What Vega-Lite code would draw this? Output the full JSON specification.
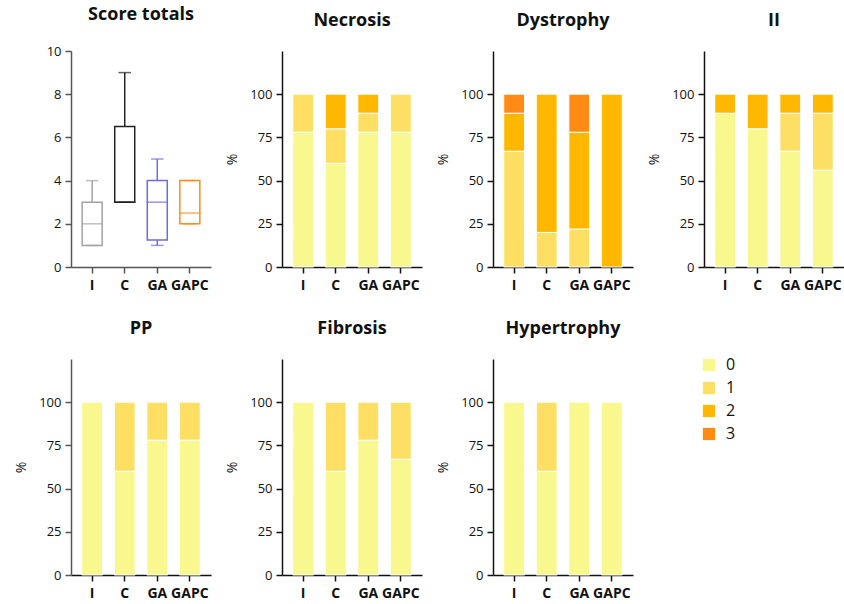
{
  "$schema": "https://vega.github.io/schema/vega-lite/v6.json",
  "background": "white",
  "padding": {"left": 14, "top": 6, "right": 0, "bottom": 0},
  "datasets": {
    "bars": [
      {"panel": "Necrosis", "group": "I", "score": 0, "pct": 78},
      {"panel": "Necrosis", "group": "I", "score": 1, "pct": 22},
      {"panel": "Necrosis", "group": "C", "score": 0, "pct": 60},
      {"panel": "Necrosis", "group": "C", "score": 1, "pct": 20},
      {"panel": "Necrosis", "group": "C", "score": 2, "pct": 20},
      {"panel": "Necrosis", "group": "GA", "score": 0, "pct": 78},
      {"panel": "Necrosis", "group": "GA", "score": 1, "pct": 11},
      {"panel": "Necrosis", "group": "GA", "score": 2, "pct": 11},
      {"panel": "Necrosis", "group": "GAPC", "score": 0, "pct": 78},
      {"panel": "Necrosis", "group": "GAPC", "score": 1, "pct": 22},
      {"panel": "Dystrophy", "group": "I", "score": 1, "pct": 67},
      {"panel": "Dystrophy", "group": "I", "score": 2, "pct": 22},
      {"panel": "Dystrophy", "group": "I", "score": 3, "pct": 11},
      {"panel": "Dystrophy", "group": "C", "score": 1, "pct": 20},
      {"panel": "Dystrophy", "group": "C", "score": 2, "pct": 80},
      {"panel": "Dystrophy", "group": "GA", "score": 1, "pct": 22},
      {"panel": "Dystrophy", "group": "GA", "score": 2, "pct": 56},
      {"panel": "Dystrophy", "group": "GA", "score": 3, "pct": 22},
      {"panel": "Dystrophy", "group": "GAPC", "score": 2, "pct": 100},
      {"panel": "II", "group": "I", "score": 0, "pct": 89},
      {"panel": "II", "group": "I", "score": 2, "pct": 11},
      {"panel": "II", "group": "C", "score": 0, "pct": 80},
      {"panel": "II", "group": "C", "score": 2, "pct": 20},
      {"panel": "II", "group": "GA", "score": 0, "pct": 67},
      {"panel": "II", "group": "GA", "score": 1, "pct": 22},
      {"panel": "II", "group": "GA", "score": 2, "pct": 11},
      {"panel": "II", "group": "GAPC", "score": 0, "pct": 56},
      {"panel": "II", "group": "GAPC", "score": 1, "pct": 33},
      {"panel": "II", "group": "GAPC", "score": 2, "pct": 11},
      {"panel": "PP", "group": "I", "score": 0, "pct": 100},
      {"panel": "PP", "group": "C", "score": 0, "pct": 60},
      {"panel": "PP", "group": "C", "score": 1, "pct": 40},
      {"panel": "PP", "group": "GA", "score": 0, "pct": 78},
      {"panel": "PP", "group": "GA", "score": 1, "pct": 22},
      {"panel": "PP", "group": "GAPC", "score": 0, "pct": 78},
      {"panel": "PP", "group": "GAPC", "score": 1, "pct": 22},
      {"panel": "Fibrosis", "group": "I", "score": 0, "pct": 100},
      {"panel": "Fibrosis", "group": "C", "score": 0, "pct": 60},
      {"panel": "Fibrosis", "group": "C", "score": 1, "pct": 40},
      {"panel": "Fibrosis", "group": "GA", "score": 0, "pct": 78},
      {"panel": "Fibrosis", "group": "GA", "score": 1, "pct": 22},
      {"panel": "Fibrosis", "group": "GAPC", "score": 0, "pct": 67},
      {"panel": "Fibrosis", "group": "GAPC", "score": 1, "pct": 33},
      {"panel": "Hypertrophy", "group": "I", "score": 0, "pct": 100},
      {"panel": "Hypertrophy", "group": "C", "score": 0, "pct": 60},
      {"panel": "Hypertrophy", "group": "C", "score": 1, "pct": 40},
      {"panel": "Hypertrophy", "group": "GA", "score": 0, "pct": 100},
      {"panel": "Hypertrophy", "group": "GAPC", "score": 0, "pct": 100}
    ],
    "box": [
      {"group": "I", "lo": 1, "q1": 1, "med": 2, "q3": 3, "hi": 4},
      {"group": "C", "lo": 3, "q1": 3, "med": 3, "q3": 6.5, "hi": 9},
      {"group": "GA", "lo": 1, "q1": 1.25, "med": 3, "q3": 4, "hi": 5},
      {"group": "GAPC", "lo": 2, "q1": 2, "med": 2.5, "q3": 4, "hi": 4}
    ]
  },
  "columns": 4,
  "spacing": {"row": 92, "column": 71},
  "bounds": "flush",
  "concat": [
    {
      "width": 140, "height": 216,
      "title": "Score totals",
      "data": {"name": "box"},
      "encoding": {
        "x": {"field": "group", "type": "nominal", "sort": ["I", "C", "GA", "GAPC"], "scale": {"paddingInner": 0.36, "paddingOuter": 0.33}, "axis": {"title": null, "labelAngle": 0, "domainColor": "#555", "tickColor": "#555"}},
        "stroke": {"field": "group", "type": "nominal", "scale": {"domain": ["I", "C", "GA", "GAPC"], "range": ["#A3A3A3", "#222222", "#6A6AE6", "#FF8C1A"]}, "legend": null}
      },
      "layer": [
        {
          "mark": {"type": "rule", "strokeWidth": 1.5},
          "encoding": {
            "y": {"field": "lo", "type": "quantitative", "scale": {"domain": [0, 10]}, "axis": {"values": [0, 2, 4, 6, 8, 10], "title": null, "domainColor": "#555", "tickColor": "#555"}},
            "y2": {"field": "hi"}
          }
        },
        {
          "mark": {"type": "bar", "fill": "white", "strokeWidth": 1.5, "width": 20},
          "encoding": {
            "y": {"field": "q1", "type": "quantitative"},
            "y2": {"field": "q3"}
          }
        },
        {
          "mark": {"type": "tick", "filled": false, "thickness": 0.01, "size": 20, "strokeWidth": 1.5},
          "encoding": {"y": {"field": "med", "type": "quantitative"}}
        },
        {
          "mark": {"type": "tick", "filled": false, "thickness": 0.01, "size": 11, "strokeWidth": 1.5},
          "encoding": {"y": {"field": "hi", "type": "quantitative"}}
        },
        {
          "mark": {"type": "tick", "filled": false, "thickness": 0.01, "size": 11, "strokeWidth": 1.5},
          "encoding": {"y": {"field": "lo", "type": "quantitative"}}
        }
      ]
    },
    {
      "width": 140, "height": 216, "title": "Necrosis",
      "data": {"name": "bars"},
      "transform": [{"filter": "datum.panel === 'Necrosis'"}],
      "mark": {"type": "bar", "stroke": "white", "strokeWidth": 1},
      "encoding": {
        "x": {"field": "group", "type": "nominal", "sort": ["I", "C", "GA", "GAPC"], "scale": {"paddingInner": 0.36, "paddingOuter": 0.33}, "axis": {"title": null, "labelAngle": 0}},
        "y": {"field": "pct", "type": "quantitative", "stack": "zero", "scale": {"domain": [0, 125]}, "axis": {"values": [0, 25, 50, 75, 100], "title": "%"}},
        "color": {"field": "score", "type": "nominal", "scale": {"domain": [0, 1, 2, 3], "range": ["#F8F88E", "#FDE063", "#FFB700", "#FF8A14"]}, "legend": {"orient": "none", "legendX": 630, "legendY": 306, "title": null, "symbolType": "square", "symbolSize": 150, "symbolStrokeWidth": 0, "labelFontSize": 16, "labelOffset": 9, "rowPadding": 7}},
        "order": {"field": "score", "type": "quantitative"}
      }
    },
    {
      "width": 140, "height": 216, "title": "Dystrophy",
      "data": {"name": "bars"},
      "transform": [{"filter": "datum.panel === 'Dystrophy'"}],
      "mark": {"type": "bar", "stroke": "white", "strokeWidth": 1},
      "encoding": {
        "x": {"field": "group", "type": "nominal", "sort": ["I", "C", "GA", "GAPC"], "scale": {"paddingInner": 0.36, "paddingOuter": 0.33}, "axis": {"title": null, "labelAngle": 0}},
        "y": {"field": "pct", "type": "quantitative", "stack": "zero", "scale": {"domain": [0, 125]}, "axis": {"values": [0, 25, 50, 75, 100], "title": "%"}},
        "color": {"field": "score", "type": "nominal"},
        "order": {"field": "score", "type": "quantitative"}
      }
    },
    {
      "width": 140, "height": 216, "title": "II",
      "data": {"name": "bars"},
      "transform": [{"filter": "datum.panel === 'II'"}],
      "mark": {"type": "bar", "stroke": "white", "strokeWidth": 1},
      "encoding": {
        "x": {"field": "group", "type": "nominal", "sort": ["I", "C", "GA", "GAPC"], "scale": {"paddingInner": 0.36, "paddingOuter": 0.33}, "axis": {"title": null, "labelAngle": 0}},
        "y": {"field": "pct", "type": "quantitative", "stack": "zero", "scale": {"domain": [0, 125]}, "axis": {"values": [0, 25, 50, 75, 100], "title": "%"}},
        "color": {"field": "score", "type": "nominal"},
        "order": {"field": "score", "type": "quantitative"}
      }
    },
    {
      "width": 140, "height": 216, "title": "PP",
      "data": {"name": "bars"},
      "transform": [{"filter": "datum.panel === 'PP'"}],
      "mark": {"type": "bar", "stroke": "white", "strokeWidth": 1},
      "encoding": {
        "x": {"field": "group", "type": "nominal", "sort": ["I", "C", "GA", "GAPC"], "scale": {"paddingInner": 0.36, "paddingOuter": 0.33}, "axis": {"title": null, "labelAngle": 0}},
        "y": {"field": "pct", "type": "quantitative", "stack": "zero", "scale": {"domain": [0, 125]}, "axis": {"values": [0, 25, 50, 75, 100], "title": "%", "domainColor": "#555", "tickColor": "#555"}},
        "color": {"field": "score", "type": "nominal"},
        "order": {"field": "score", "type": "quantitative"}
      }
    },
    {
      "width": 140, "height": 216, "title": "Fibrosis",
      "data": {"name": "bars"},
      "transform": [{"filter": "datum.panel === 'Fibrosis'"}],
      "mark": {"type": "bar", "stroke": "white", "strokeWidth": 1},
      "encoding": {
        "x": {"field": "group", "type": "nominal", "sort": ["I", "C", "GA", "GAPC"], "scale": {"paddingInner": 0.36, "paddingOuter": 0.33}, "axis": {"title": null, "labelAngle": 0}},
        "y": {"field": "pct", "type": "quantitative", "stack": "zero", "scale": {"domain": [0, 125]}, "axis": {"values": [0, 25, 50, 75, 100], "title": "%"}},
        "color": {"field": "score", "type": "nominal"},
        "order": {"field": "score", "type": "quantitative"}
      }
    },
    {
      "width": 140, "height": 216, "title": "Hypertrophy",
      "data": {"name": "bars"},
      "transform": [{"filter": "datum.panel === 'Hypertrophy'"}],
      "mark": {"type": "bar", "stroke": "white", "strokeWidth": 1},
      "encoding": {
        "x": {"field": "group", "type": "nominal", "sort": ["I", "C", "GA", "GAPC"], "scale": {"paddingInner": 0.36, "paddingOuter": 0.33}, "axis": {"title": null, "labelAngle": 0}},
        "y": {"field": "pct", "type": "quantitative", "stack": "zero", "scale": {"domain": [0, 125]}, "axis": {"values": [0, 25, 50, 75, 100], "title": "%"}},
        "color": {"field": "score", "type": "nominal"},
        "order": {"field": "score", "type": "quantitative"}
      }
    }
  ],
  "config": {
    "font": "Open Sans",
    "view": {"stroke": null},
    "title": {"fontSize": 18, "fontWeight": "bold", "color": "#111", "offset": 21, "anchor": "middle", "frame": "group", "font": "Open Sans"},
    "axis": {"grid": false, "domainColor": "#111", "tickColor": "#111", "labelColor": "#111", "labelFontSize": 13, "tickSize": 6, "domainWidth": 1.5, "tickWidth": 1.5, "labelPadding": 4, "titleFontWeight": "normal", "titleFontSize": 14, "titleColor": "#111", "titlePadding": 10},
    "axisX": {"labelFontWeight": "bold", "labelFontSize": 14, "labelPadding": 5},
    "legend": {"labelColor": "#111", "labelFont": "Open Sans"}
  }
}
